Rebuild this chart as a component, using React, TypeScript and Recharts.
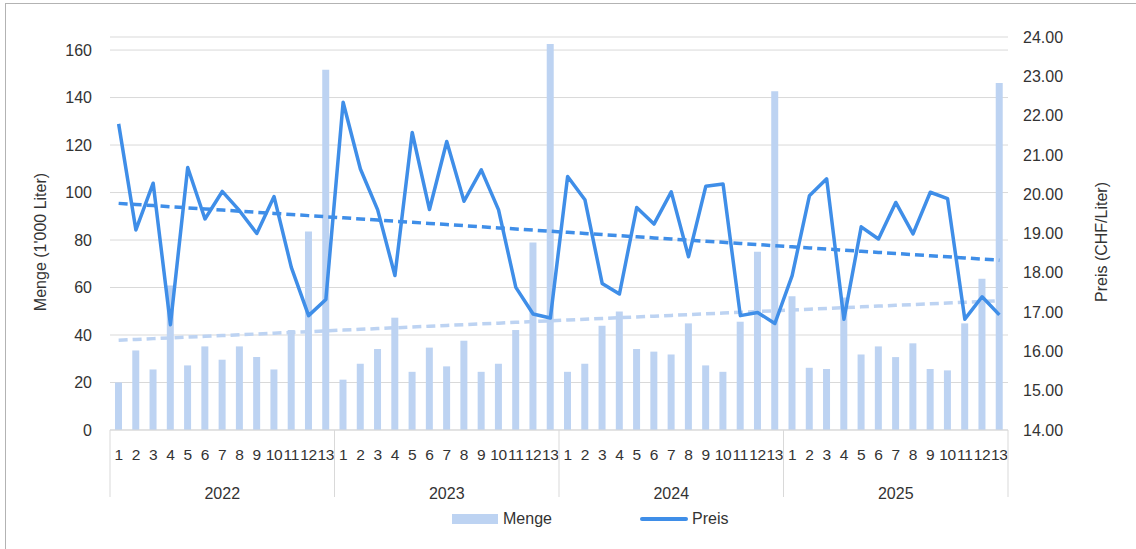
import React from 'react'
import { ComposedChart, Bar, Line, XAxis, YAxis, CartesianGrid, Legend } from 'recharts'

// ── Daten ─────────────────────────────────────────────────────────────────────
const YEARS = ['2022', '2023', '2024', '2025']
const PERIODS = ['1', '2', '3', '4', '5', '6', '7', '8', '9', '10', '11', '12', '13']

// Menge in 1'000 Liter
const MENGE_2022 = [20, 33.5, 25.5, 60.8, 27.2, 35.2, 29.6, 35.2, 30.7, 25.5, 42.1, 83.6, 151.7]
const MENGE_2023 = [21.2, 27.9, 34.1, 47.3, 24.5, 34.7, 26.8, 37.6, 24.5, 27.9, 42.1, 79.0, 162.5]
const MENGE_2024 = [24.5, 27.9, 43.9, 49.9, 34.1, 33.0, 31.8, 44.9, 27.2, 24.5, 45.6, 75.1, 142.7]
const MENGE_2025 = [56.3, 26.2, 25.7, 55.8, 31.8, 35.2, 30.7, 36.5, 25.7, 25.1, 44.9, 63.7, 146.1]

// Preis in CHF/Liter
const PREIS_2022 = [21.79, 19.09, 20.28, 16.68, 20.68, 19.37, 20.07, 19.58, 19.0, 19.94, 18.14, 16.91, 17.32]
const PREIS_2023 = [22.34, 20.64, 19.6, 17.93, 21.57, 19.61, 21.34, 19.82, 20.62, 19.6, 17.63, 16.95, 16.85]
const PREIS_2024 = [20.45, 19.86, 17.73, 17.46, 19.66, 19.24, 20.06, 18.41, 20.2, 20.26, 16.91, 16.99, 16.71]
const PREIS_2025 = [17.93, 19.96, 20.39, 16.82, 19.17, 18.86, 19.79, 18.99, 20.05, 19.89, 16.82, 17.39, 16.93]

const LEFT_TICKS = [0, 20, 40, 60, 80, 100, 120, 140, 160]
const RIGHT_TICKS = [14, 15, 16, 17, 18, 19, 20, 21, 22, 23, 24]

const MENGE_BY_YEAR = [MENGE_2022, MENGE_2023, MENGE_2024, MENGE_2025]
const PREIS_BY_YEAR = [PREIS_2022, PREIS_2023, PREIS_2024, PREIS_2025]

// lineare Trendlinie (kleinste Quadrate), wie in Excel
function linearTrend(values: number[]) {
  const n = values.length
  const mx = (n - 1) / 2
  const my = values.reduce((s, v) => s + v, 0) / n
  let sxy = 0
  let sxx = 0
  values.forEach((v, i) => {
    sxy += (i - mx) * (v - my)
    sxx += (i - mx) * (i - mx)
  })
  const slope = sxy / sxx
  return values.map((_, i) => my + slope * (i - mx))
}

const mengeAll = MENGE_BY_YEAR.flat()
const preisAll = PREIS_BY_YEAR.flat()
const mengeTrend = linearTrend(mengeAll)
const preisTrend = linearTrend(preisAll)

const data = YEARS.flatMap((year, yi) =>
  PERIODS.map((p, pi) => {
    const i = yi * PERIODS.length + pi
    return {
      key: `${year}-${p}`,
      year,
      period: p,
      menge: mengeAll[i],
      preis: preisAll[i],
      mengeTrend: mengeTrend[i],
      preisTrend: preisTrend[i],
    }
  })
)

// ── Stil ──────────────────────────────────────────────────────────────────────
const FONT = '"Liberation Sans", Arial, sans-serif'
const TEXT = '#333333'
const GRID = '#d9d9d9'
const BAR_COLOR = '#bdd3f2'
const LINE_COLOR = '#3f8ee8'

const MonthTick = (p: any) => (
  <text x={p.x} y={p.y + 24} textAnchor="middle" dominantBaseline="central"
    fontSize={15.5} letterSpacing={-0.3} fill={TEXT} fontFamily={FONT}>
    {data[p.index]?.period}
  </text>
)

const YearTick = (p: any) => {
  const idx = p.index as number
  const half = p.payload?.offset || 8.63
  const n = PERIODS.length
  const row = data[idx]
  return (
    <g>
      {idx % n === 0 && (
        <line x1={p.x - half} x2={p.x - half} y1={p.y - 30} y2={p.y + 37} stroke={GRID} />
      )}
      {idx === data.length - 1 && (
        <line x1={p.x + half} x2={p.x + half} y1={p.y - 30} y2={p.y + 37} stroke={GRID} />
      )}
      {idx % n === Math.floor(n / 2) && (
        <text x={p.x} y={p.y + 33} textAnchor="middle" dominantBaseline="central"
          fontSize={16} fill={TEXT} fontFamily={FONT}>
          {row.year}
        </text>
      )}
    </g>
  )
}

const axisTitle = (text: string, x: number) => () => (
  <text x={x} y={242} transform={`rotate(-90, ${x}, 242)`} textAnchor="middle"
    dominantBaseline="central" fontSize={16} fill={TEXT} fontFamily={FONT}>
    {text}
  </text>
)

const LegendContent = () => (
  <div style={{ position: 'relative', height: 28, fontFamily: FONT, fontSize: 16, color: TEXT }}>
    <span style={{ position: 'absolute', left: 452, top: 9, width: 46, height: 10, background: BAR_COLOR }} />
    <span style={{ position: 'absolute', left: 503, top: 4, lineHeight: '20px' }}>Menge</span>
    <span style={{ position: 'absolute', left: 640, top: 12, width: 48, height: 4, borderRadius: 2, background: LINE_COLOR }} />
    <span style={{ position: 'absolute', left: 692, top: 4, lineHeight: '20px' }}>Preis</span>
  </div>
)

export default function App() {
  return (
    <div style={{ position: 'absolute', left: 0, top: 0, width: 1136, height: 549, background: '#fff' }}>
      <div style={{ position: 'absolute', left: 5, top: 3, right: -2, bottom: -2, borderLeft: '1px solid #b3b3b3', borderTop: '1px solid #b3b3b3' }} />
      <ComposedChart width={1136} height={549} data={data}
        margin={{ top: 37, right: 0, left: 0, bottom: 19 }} style={{ fontFamily: FONT }}>
        <CartesianGrid vertical={false} stroke={GRID} yAxisId="left" xAxisId="m" />
        <XAxis xAxisId="m" dataKey="key" interval={0} height={30} tickSize={0} tickMargin={0}
          tickLine={false} axisLine={{ stroke: GRID }} tick={<MonthTick />} />
        <XAxis xAxisId="y" dataKey="key" interval={0} height={70} tickSize={0} tickMargin={0}
          tickLine={false} axisLine={false} tick={<YearTick />} />
        <YAxis yAxisId="left" orientation="left" width={110} domain={[0, 165.5]} ticks={LEFT_TICKS}
          allowDataOverflow axisLine={false} tickLine={false} tickSize={0} tickMargin={18}
          tick={{ fontSize: 16, fill: TEXT, fontFamily: FONT }}
          label={axisTitle("Menge (1'000 Liter)", 40)} />
        <YAxis yAxisId="right" orientation="right" width={128} domain={[14, 24]} ticks={RIGHT_TICKS}
          allowDataOverflow axisLine={false} tickLine={false} tickSize={0} tickMargin={15}
          tick={{ fontSize: 16, fill: TEXT, fontFamily: FONT }}
          tickFormatter={(v: number) => v.toFixed(2)}
          label={axisTitle('Preis (CHF/Liter)', 1101)} />
        <Legend verticalAlign="middle" layout="horizontal" content={<LegendContent />}
          wrapperStyle={{ left: 0, top: 505, width: 1136, height: 28 }} />
        <Bar xAxisId="m" yAxisId="left" dataKey="menge" name="Menge" fill={BAR_COLOR}
          barSize={7} isAnimationActive={false} />
        <Line xAxisId="m" yAxisId="left" dataKey="mengeTrend" stroke={BAR_COLOR} strokeWidth={3.5}
          strokeDasharray="9 5" dot={false} activeDot={false} isAnimationActive={false} legendType="none" />
        <Line xAxisId="m" yAxisId="right" dataKey="preis" name="Preis" stroke={LINE_COLOR} strokeWidth={3.5}
          strokeLinejoin="round" dot={false} activeDot={false} isAnimationActive={false} />
        <Line xAxisId="m" yAxisId="right" dataKey="preisTrend" stroke={LINE_COLOR} strokeWidth={3.5}
          strokeDasharray="9 5" dot={false} activeDot={false} isAnimationActive={false} legendType="none" />
      </ComposedChart>
    </div>
  )
}
